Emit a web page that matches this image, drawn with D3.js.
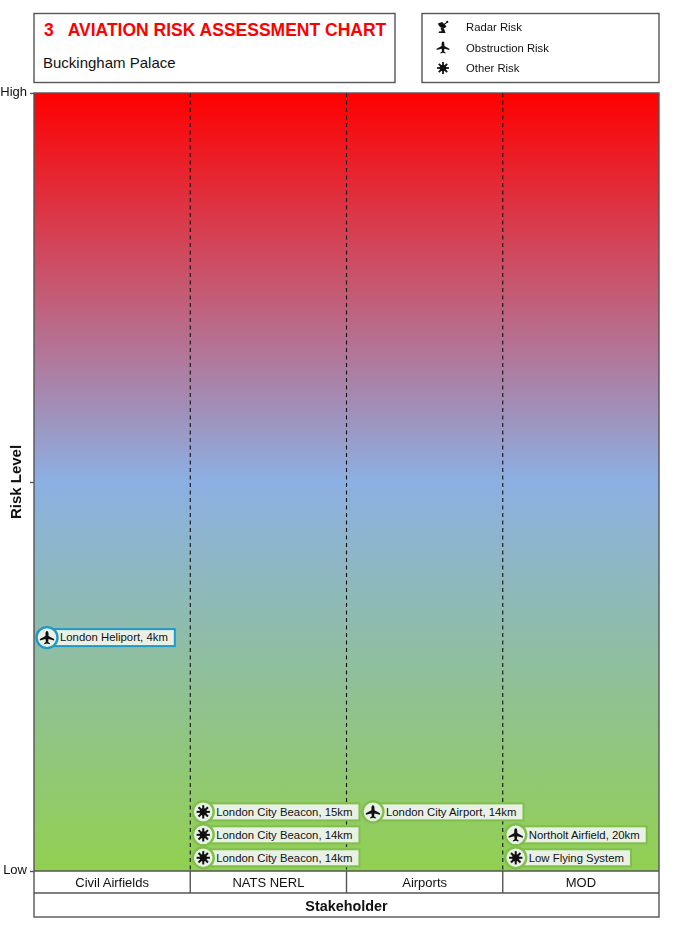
<!DOCTYPE html>
<html><head><meta charset="utf-8">
<script src="https://cdn.jsdelivr.net/npm/d3@7/dist/d3.min.js"></script>
<style>html,body{margin:0;padding:0;background:#fff}svg{display:block;filter:blur(0.35px)}text{font-family:"Liberation Sans",Arial,sans-serif;fill:#111}</style>
</head><body><svg id="c" width="675" height="931"></svg>
<script>
const stakeholders = ["Civil Airfields","NATS NERL","Airports","MOD"];
const levelTicks = [0,50,100];
const levelTickLabels = ["Low","","High"];
const riskTypes = ["Radar Risk","Obstruction Risk","Other Risk"];
const riskNames = ["London Heliport, 4km","London City Beacon, 15km","London City Beacon, 14km","London City Beacon, 14km","London City Airport, 14km","Northolt Airfield, 20km","Low Flying System"];
const riskStake = ["Civil Airfields","NATS NERL","NATS NERL","NATS NERL","Airports","MOD","MOD"];
const riskLevel = [30,7.6,4.65,1.7,7.6,4.65,1.7];
const riskType = ["Obstruction Risk","Other Risk","Other Risk","Other Risk","Obstruction Risk","Obstruction Risk","Other Risk"];
const riskBand = ["blue","green","green","green","green","green","green"];
const bandColours = {blue:"#1f9ac6",green:"#7fbf4a"};
const gradientStops = [[0,"#ff0000"],[0.5,"#8cb0e3"],[1,"#92d050"]];

const svg = d3.select("#c");
const L=34,R=659,T=93,B=871,CB=893,SB=917;
const x = d3.scaleBand().domain(stakeholders).range([L,R]);
const y = d3.scaleLinear().domain([0,100]).range([B,T]);
const boxStroke="#555";

const defs=svg.append("defs");
const g=defs.append("linearGradient").attr("id","risk").attr("x1",0).attr("x2",0).attr("y1",0).attr("y2",1);
g.selectAll("stop").data(gradientStops).join("stop").attr("offset",d=>d[0]).attr("stop-color",d=>d[1]);

// icons
function plane(s){
  s.append("path").attr("fill","#111").attr("d","M0,-7 C1.2,-7 1.6,-5.5 1.6,-3.8 L1.6,-1.8 L7.5,1.4 L7.5,3 L1.6,1.6 L1.2,4.6 L3,6 L3,7 L0,6.3 L-3,7 L-3,6 L-1.2,4.6 L-1.6,1.6 L-7.5,3 L-7.5,1.4 L-1.6,-1.8 L-1.6,-3.8 C-1.6,-5.5 -1.2,-7 0,-7Z");
}
function star(s){
  s.append("circle").attr("r",3.8).attr("fill","#111");
  d3.range(8).forEach(i=>{
    const a=i*Math.PI/4;
    s.append("line").attr("x1",0).attr("y1",0).attr("x2",7*Math.cos(a)).attr("y2",7*Math.sin(a)).attr("stroke","#111").attr("stroke-width",2.1);
  });
}
function radar(s){
  s.append("path").attr("fill","#111").attr("d","M-6,-4 L-1,-6 L4,-1 C3,2 -4,3 -6,-4Z");
  s.append("path").attr("fill","none").attr("stroke","#111").attr("stroke-width",1.3).attr("d","M0,-2 L4.5,-5.5");
  s.append("circle").attr("cx",5).attr("cy",-6).attr("r",1.3).attr("fill","#111");
  s.append("path").attr("fill","#111").attr("d","M-3,1 L1,1.5 L3,7 L-5,7 L-5,5.2 L-1.5,5 Z");
}
const iconFor={"Radar Risk":radar,"Obstruction Risk":plane,"Other Risk":star};

// title box
svg.append("rect").attr("x",34).attr("y",13.5).attr("width",361).attr("height",69).attr("fill","#fff").attr("stroke",boxStroke).attr("stroke-width",1.4);
svg.append("text").attr("x",44).attr("y",36).attr("font-size",17.5).attr("font-weight","bold").style("fill","#ff0000").style("white-space","pre").text("3   AVIATION RISK ASSESSMENT CHART");
svg.append("text").attr("x",43).attr("y",68).attr("font-size",15).text("Buckingham Palace");

// legend
svg.append("rect").attr("x",422).attr("y",13.5).attr("width",237).attr("height",69).attr("fill","#fff").attr("stroke",boxStroke).attr("stroke-width",1.4);
const leg=d3.scalePoint().domain(riskTypes).range([27,68]);
riskTypes.forEach(t=>{
  const gg=svg.append("g").attr("transform",`translate(443,${leg(t)}) scale(0.85)`);
  iconFor[t](gg);
  svg.append("text").attr("x",466).attr("y",leg(t)+4).attr("font-size",11.3).text(t);
});

// plot
svg.append("rect").attr("x",L).attr("y",T).attr("width",R-L).attr("height",B-T).attr("fill","url(#risk)");
svg.append("g").selectAll("line").data(stakeholders.slice(1)).join("line")
  .attr("x1",d=>x(d)).attr("x2",d=>x(d)).attr("y1",T).attr("y2",B)
  .attr("stroke","#111").attr("stroke-width",1.1).attr("stroke-dasharray","4 3.5");

// bottom bands
svg.append("rect").attr("x",L).attr("y",B).attr("width",R-L).attr("height",SB-B).attr("fill","#fff");
svg.append("g").selectAll("line").data(stakeholders.slice(1)).join("line")
  .attr("x1",d=>x(d)).attr("x2",d=>x(d)).attr("y1",B).attr("y2",CB).attr("stroke",boxStroke).attr("stroke-width",1.4);
svg.append("g").selectAll("text").data(stakeholders).join("text")
  .attr("x",d=>x(d)+x.bandwidth()/2).attr("y",887).attr("text-anchor","middle").attr("font-size",13).text(d=>d);
[B,CB].forEach(v=>svg.append("line").attr("x1",L).attr("x2",R).attr("y1",v).attr("y2",v).attr("stroke",boxStroke).attr("stroke-width",1.4));
svg.append("rect").attr("x",L).attr("y",T).attr("width",R-L).attr("height",SB-T).attr("fill","none").attr("stroke",boxStroke).attr("stroke-width",1.4);
svg.append("text").attr("x",(L+R)/2).attr("y",910.5).attr("text-anchor","middle").attr("font-size",14.4).attr("font-weight","bold").text("Stakeholder");

// axis
const ax=d3.axisLeft(y).tickValues(levelTicks).tickFormat((d,i)=>levelTickLabels[i]).tickSize(4).tickPadding(3);
const axg=svg.append("g").attr("transform",`translate(${L},0)`).call(ax);
axg.select(".domain").remove();
axg.selectAll("line").attr("stroke",boxStroke).attr("stroke-width",1.4);
axg.selectAll("text").attr("font-size",13).attr("font-family",null).attr("dy","0.2em").style("fill","#111");
svg.append("text").attr("transform","translate(21,482) rotate(-90)").attr("text-anchor","middle").attr("font-size",15).attr("font-weight","bold").text("Risk Level");

// markers
const placed=[];
riskNames.forEach((name,i)=>{
  const col=riskBand[i]; const c=bandColours[col];
  const yy=y(riskLevel[i]);
  let cx=x(riskStake[i])+13;
  placed.forEach(p=>{ if(Math.abs(p.y-yy)<2 && cx-11<p.end) cx=p.end+13.5; });
  const m=svg.append("g");
  const rect=m.append("rect").attr("y",yy-8.5).attr("height",17).attr("x",cx+3)
     .attr("fill","#e9f1e6").attr("stroke",c).attr("stroke-width",2);
  const t=m.append("text").attr("x",cx+13).attr("y",yy+3.8).attr("font-size",11.35).text(name);
  const end=cx+13+t.node().getComputedTextLength()+7;
  rect.attr("width",end-cx-3);
  m.append("circle").attr("cx",cx).attr("cy",yy).attr("r",10.5).attr("fill","#e9f1e6").attr("stroke",c).attr("stroke-width",2.4);
  iconFor[riskType[i]](m.append("g").attr("transform",`translate(${cx},${yy}) scale(0.95)`));
  placed.push({y:yy,end});
});
</script></body></html>
